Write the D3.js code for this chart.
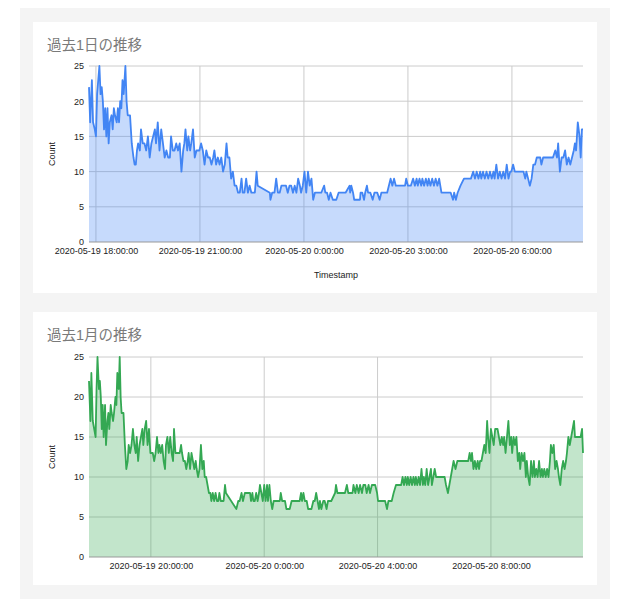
<!DOCTYPE html>
<html>
<head>
<meta charset="utf-8">
<script src="https://cdn.jsdelivr.net/npm/d3@7"></script>
<style>
    body { margin: 0; background: #ffffff; }
    text { font-family: Arial, 'Liberation Sans', 'Noto Sans CJK JP', sans-serif; }
</style>
</head>
<body>
<script>
// minutes are counted from 2020-05-19 18:00:00
const origin = new Date(2020, 4, 19, 18, 0, 0);

const dayMinutes = [
    -12, -10, -7, -5, -2, 0, 2, 6, 8, 10, 12, 14, 16, 18, 20, 22, 24, 27, 29, 31, 33, 36, 38, 40, 42, 44, 46, 48, 51, 53,
    55, 59, 62, 65, 67, 69, 71, 73, 76, 78, 81, 84, 87, 90, 93, 96, 99, 102, 104, 107, 110, 113, 116, 119, 122, 125, 128, 130,
    133, 136, 139, 142, 145, 148, 151, 153, 155, 158, 160, 163, 165, 168, 171, 174, 177, 179, 182, 185, 188, 191, 194, 197,
    200, 203, 205, 208, 211, 214, 217, 220, 223, 226, 228, 231, 234, 237, 240, 243, 246, 249, 252, 254, 257, 260, 263, 266,
    269, 272, 275, 278, 280, 301, 302, 305, 309, 312, 315, 318, 321, 327, 329, 332, 335, 338, 341, 344, 347, 350, 353, 355,
    358, 361, 364, 367, 370, 373, 376, 379, 384, 390, 395, 397, 400, 403, 406, 410, 416, 420, 426, 432, 439, 440, 442, 445,
    447, 452, 457, 458, 461, 464, 466, 469, 471, 475, 479, 482, 487, 491, 494, 498, 504, 507, 510, 513, 516, 519, 524, 530,
    535, 537, 540, 545, 549, 552, 555, 557, 560, 563, 565, 568, 571, 574, 576, 579, 582, 585, 588, 591, 594, 596, 598, 603,
    608, 614, 618, 620, 623, 626, 631, 637, 643, 649, 653, 656, 659, 662, 665, 667, 670, 673, 676, 679, 682, 685, 688, 690,
    693, 696, 699, 702, 705, 708, 711, 714, 717, 719, 722, 725, 730, 736, 740, 743, 745, 748, 751, 754, 757, 760, 763, 766,
    769, 771, 774, 779, 785, 791, 795, 798, 800, 803, 806, 809, 812, 815, 818, 821, 824, 827, 829, 831, 834, 837, 839, 841, 843
];
const dayCounts = [
    22, 17, 23, 17, 16, 15, 21, 25, 21, 22, 20, 16, 19, 15, 19, 14, 17, 18, 16, 19, 18, 17, 19, 17, 20, 19, 23, 21, 25, 20,
    18, 18, 14, 12, 11, 11, 13, 14, 13, 16, 14, 14, 13, 15, 12, 14, 15, 16, 14, 17, 13, 16, 14, 12, 13, 12, 12, 15,
    13, 13, 14, 13, 14, 10, 13, 14, 16, 13, 15, 13, 14, 16, 12, 13, 13, 13, 14, 13, 11, 13, 12, 12,
    11, 12, 13, 11, 12, 11, 12, 10, 11, 14, 12, 12, 9, 10, 8, 8, 7, 7, 9, 7, 7, 9, 7, 8,
    7, 7, 7, 10, 8, 7, 6, 7, 7, 9, 7, 7, 8, 8, 8, 7, 8, 8, 7, 8, 7, 9, 8, 7,
    8, 10, 7, 10, 8, 9, 6, 7, 7, 7, 8, 7, 7, 6, 7, 6, 6, 7, 7, 7, 8, 7, 8, 7,
    6, 6, 6, 7, 7, 6, 7, 8, 7, 7, 6, 7, 7, 6, 7, 7, 7, 8, 9, 8, 9, 8, 8, 8,
    8, 9, 8, 8, 9, 8, 9, 8, 9, 8, 9, 8, 9, 8, 9, 8, 9, 8, 9, 8, 9, 8, 7, 7,
    7, 7, 6, 7, 6, 7, 8, 9, 9, 9, 10, 9, 10, 9, 10, 9, 10, 9, 10, 9, 10, 9, 10, 9,
    11, 9, 10, 9, 10, 9, 11, 9, 10, 10, 11, 10, 10, 10, 10, 9, 10, 9, 8, 9, 11, 11, 12, 12,
    12, 11, 12, 12, 12, 12, 13, 12, 14, 10, 12, 12, 13, 11, 12, 11, 12, 13, 14, 13, 17, 15, 12, 16, 16
];

const monthMinutes = [
    -11, -8, -6, -3, 0, 3, 5, 7, 10, 12, 14, 16, 18, 20, 23, 25, 28, 30, 32, 35, 37, 40, 42, 45, 47, 49, 52, 54, 56, 58,
    62, 65, 68, 71, 73, 76, 79, 82, 85, 88, 90, 93, 96, 99, 102, 104, 107, 110, 113, 116, 119, 121, 124, 127, 130, 133,
    136, 138, 141, 144, 147, 150, 152, 155, 158, 161, 164, 167, 169, 172, 175, 178, 181, 184, 186, 189, 192, 195, 198, 200,
    203, 206, 209, 212, 215, 217, 220, 223, 226, 229, 232, 234, 237, 240, 243, 246, 248, 251, 254, 257, 260, 263, 265, 268,
    271, 274, 277, 279, 301, 305, 308, 312, 315, 319, 323, 326, 330, 332, 335, 337, 340, 343, 346, 349, 351, 354, 357, 360,
    363, 366, 368, 371, 374, 377, 380, 386, 393, 395, 398, 404, 407, 411, 414, 418, 425, 432, 435, 438, 440, 443, 446, 450,
    453, 457, 460, 464, 467, 470, 473, 476, 478, 481, 485, 488, 492, 495, 502, 510, 512, 515, 519, 523, 528, 531, 535, 538,
    542, 547, 549, 553, 556, 560, 563, 567, 570, 574, 577, 581, 584, 588, 592, 595, 599, 601, 606, 613, 616, 620, 623, 630,
    634, 639, 645, 650, 653, 656, 659, 662, 664, 667, 670, 673, 676, 679, 681, 684, 687, 690, 693, 696, 698, 701, 704, 707,
    710, 713, 715, 718, 721, 724, 730, 737, 742, 745, 749, 752, 755, 758, 761, 765, 769, 772, 779, 786, 792, 795, 798, 800,
    803, 806, 809, 812, 815, 817, 820, 823, 826, 829, 832, 834, 837, 840, 843, 846, 849, 851, 854, 857, 860, 863, 866, 868,
    871, 874, 877, 880, 883, 885, 888, 891, 894, 897, 900, 902, 905, 908, 911, 914, 916, 919, 922, 925, 928, 931, 933, 936,
    939, 942, 945, 948, 950, 953, 956, 959, 962, 965, 967, 970, 973, 976, 979, 982, 984, 987, 990, 993, 996, 999, 1001, 1004,
    1007, 1010, 1013, 1016, 1018, 1024, 1030, 1033, 1035
];
const monthCounts = [
    22, 17, 23, 17, 16, 15, 21, 25, 21, 22, 20, 16, 19, 15, 19, 14, 17, 18, 16, 19, 18, 17, 18, 20, 19, 23, 21, 25, 20, 18,
    18, 14, 11, 12, 14, 13, 14, 16, 14, 13, 15, 12, 14, 15, 16, 14, 16, 17, 14, 16, 13, 13, 13, 12, 13, 15,
    13, 14, 13, 14, 12, 11, 14, 15, 13, 15, 13, 12, 16, 13, 13, 13, 13, 14, 13, 12, 12, 11, 12, 13,
    11, 13, 12, 11, 12, 11, 10, 11, 14, 11, 12, 10, 10, 9, 8, 8, 7, 8, 7, 8, 7, 7, 8, 7,
    7, 7, 9, 8, 6, 7, 7, 8, 7, 8, 8, 8, 8, 7, 8, 7, 7, 8, 7, 8, 9, 8, 7, 9,
    7, 9, 7, 9, 7, 6, 7, 7, 7, 8, 7, 7, 6, 6, 6, 7, 7, 7, 7, 8, 7, 8, 7, 7,
    6, 6, 6, 7, 7, 8, 7, 6, 7, 6, 7, 7, 6, 7, 7, 8, 9, 8, 8, 8, 8, 8, 9, 8,
    8, 8, 9, 8, 9, 8, 9, 8, 9, 9, 8, 9, 8, 9, 9, 9, 8, 7, 7, 7, 7, 6, 7, 7,
    8, 9, 9, 9, 10, 9, 10, 9, 10, 9, 10, 9, 10, 9, 10, 9, 10, 9, 11, 9, 10, 9, 11, 9,
    10, 11, 9, 10, 11, 10, 10, 10, 10, 9, 8, 9, 10, 11, 12, 11, 12, 12, 12, 12, 12, 13, 12, 13,
    11, 12, 11, 12, 11, 12, 12, 13, 14, 13, 17, 15, 13, 16, 15, 14, 16, 16, 16, 15, 14, 15, 14, 15,
    13, 15, 17, 14, 15, 13, 15, 14, 15, 12, 13, 11, 13, 12, 13, 10, 12, 10, 9, 12, 10, 12, 10, 11,
    10, 12, 10, 11, 10, 11, 10, 11, 10, 12, 14, 13, 14, 11, 12, 11, 10, 9, 11, 12, 11, 12, 13, 15,
    14, 15, 16, 17, 15, 15, 15, 16, 13
];

const countTicks = [0, 5, 10, 15, 20, 25];
const dayTickMinutes = [0, 180, 360, 540, 720];
const monthTickMinutes = [120, 360, 600, 840];

const width = 617,
    height = 599;

const fmtTime = d3.timeFormat('%Y-%m-%d %-H:%M:%S');
const toDate = m => d3.timeMinute.offset(origin, m);

const svg = d3.select('body')
    .append('svg')
    .attr('width', width)
    .attr('height', height);

svg.append('rect')
    .attr('x', 20).attr('y', 8)
    .attr('width', 590).attr('height', 591)
    .attr('fill', '#f4f4f4');

/**
 * One card: title, grid, area and axes.
 */
function drawCard(cfg) {
    const rows = cfg.minutes.map((m, i) => ({t: toDate(m), v: cfg.counts[i]}));

    const card = svg.append('g');
    card.append('rect')
        .attr('x', 33).attr('y', cfg.top)
        .attr('width', 564).attr('height', cfg.cardHeight)
        .attr('fill', '#ffffff');

    card.append('text')
        .attr('x', 47).attr('y', cfg.top + 28)
        .attr('font-size', 14.5)
        .attr('fill', '#7a7a7a')
        .text(cfg.title);

    const x = d3.scaleTime()
        .domain(d3.extent(rows, d => d.t))
        .range([89, 583]);
    const y = d3.scaleLinear()
        .domain([0, 25])
        .range([cfg.plotBottom, cfg.plotTop]);

    // grid
    card.append('g').selectAll('line.h')
        .data(countTicks.filter(d => d > 0))
        .enter().append('line')
        .attr('x1', 89).attr('x2', 583)
        .attr('y1', d => y(d)).attr('y2', d => y(d))
        .attr('stroke', '#cccccc');
    card.append('g').selectAll('line.v')
        .data(cfg.tickMinutes)
        .enter().append('line')
        .attr('x1', d => x(toDate(d))).attr('x2', d => x(toDate(d)))
        .attr('y1', cfg.plotTop).attr('y2', cfg.plotBottom)
        .attr('stroke', '#cccccc');

    const area = d3.area()
        .x(d => x(d.t))
        .y0(y(0))
        .y1(d => y(d.v));
    const line = d3.line()
        .x(d => x(d.t))
        .y(d => y(d.v));

    card.append('path')
        .datum(rows)
        .attr('d', area)
        .attr('fill', cfg.color)
        .attr('fill-opacity', 0.3);

    card.append('line')
        .attr('x1', 89).attr('x2', 583)
        .attr('y1', y(0)).attr('y2', y(0))
        .attr('stroke', '#999999');

    card.append('path')
        .datum(rows)
        .attr('d', line)
        .attr('fill', 'none')
        .attr('stroke', cfg.color)
        .attr('stroke-width', 1.8)
        .attr('stroke-linejoin', 'round');

    // axes
    const yAxis = d3.axisLeft(y)
        .tickValues(countTicks)
        .tickSize(0)
        .tickPadding(5);
    const gy = card.append('g')
        .attr('transform', 'translate(89,0)')
        .call(yAxis);
    gy.select('.domain').remove();
    gy.selectAll('text')
        .attr('font-size', 9)
        .attr('fill', '#222222')
        .attr('font-family', null);

    const xAxis = d3.axisBottom(x)
        .tickValues(cfg.tickMinutes.map(toDate))
        .tickFormat(fmtTime)
        .tickSize(0)
        .tickPadding(6);
    const gx = card.append('g')
        .attr('transform', `translate(0,${cfg.plotBottom})`)
        .call(xAxis);
    gx.select('.domain').remove();
    gx.selectAll('text')
        .attr('font-size', 9)
        .attr('fill', '#222222')
        .attr('font-family', null);

    card.append('text')
        .attr('transform', `translate(55,${(cfg.plotTop + cfg.plotBottom) / 2}) rotate(-90)`)
        .attr('text-anchor', 'middle')
        .attr('font-size', 9)
        .attr('fill', '#222222')
        .text('Count');

    if (cfg.xTitle) {
        card.append('text')
            .attr('x', 336).attr('y', cfg.plotBottom + 36)
            .attr('text-anchor', 'middle')
            .attr('font-size', 9)
            .attr('fill', '#222222')
            .text(cfg.xTitle);
    }
}

drawCard({
    top: 22, cardHeight: 271, title: '過去1日の推移',
    minutes: dayMinutes, counts: dayCounts, tickMinutes: dayTickMinutes,
    plotTop: 66, plotBottom: 242, color: '#4285f4', xTitle: 'Timestamp'
});

drawCard({
    top: 312, cardHeight: 273, title: '過去1月の推移',
    minutes: monthMinutes, counts: monthCounts, tickMinutes: monthTickMinutes,
    plotTop: 357, plotBottom: 557, color: '#34a853', xTitle: null
});
</script>
</body>
</html>
